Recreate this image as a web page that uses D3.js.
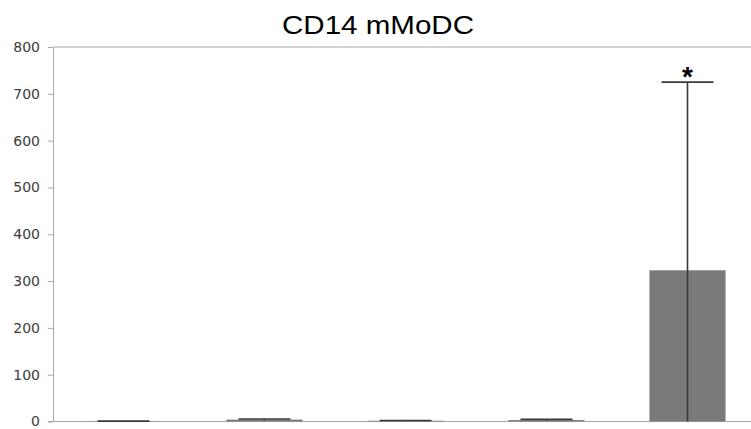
<!DOCTYPE html>
<html>
  <head>
    <meta charset="utf-8">
    <title>CD14 mMoDC</title>
    <script src="https://d3js.org/d3.v7.min.js"></script>
    <style>
      body { margin: 0; background: #fff; }
      #chart text { font-family: "DejaVu Sans", "Open Sans", sans-serif; }
      #chart .title { font-family: "Liberation Sans", Arial, sans-serif; font-size: 26px; fill: #000; }
      .tick text { font-size: 14px; fill: #3c3c3c; }
      .tick line, .domain, .frame { stroke: #a8a8a8; }
    </style>
  </head>
  <body>
    <svg id="chart" width="751" height="429"></svg>
    <script>
      // chart data
      var groups = ["G1", "G2", "G3", "G4", "G5"];
      var means = [0.6, 4, 1.5, 3, 323];
      var sds = [0.3, 1.5, 0.6, 1.5, 402];
      var sig = ["", "", "", "", "*"];
      var yTicks = [0, 100, 200, 300, 400, 500, 600, 700, 800];

      var svg = d3.select("#chart");
      var margin = { top: 47, left: 53 };
      var width = 751;

      var x = d3.scaleBand()
        .domain(groups)
        .range([margin.left, margin.left + 141 * groups.length])
        .paddingInner(0.46)
        .paddingOuter(0.23);
      var y = d3.scaleLinear()
        .domain([0, 800])
        .range([421.5, margin.top]);

      // title (reference text is stretched horizontally)
      svg.append("text")
        .attr("class", "title")
        .attr("x", 378)
        .attr("y", 34)
        .attr("text-anchor", "middle")
        .attr("textLength", 192)
        .attr("lengthAdjust", "spacingAndGlyphs")
        .text("CD14 mMoDC");

      // axis
      var axis = d3.axisLeft(y)
        .tickValues(yTicks)
        .tickSize(5)
        .tickSizeOuter(0)
        .tickPadding(8);
      svg.append("g")
        .attr("transform", "translate(" + margin.left + ",0)")
        .call(axis);

      // top and bottom frame lines
      svg.append("line")
        .attr("class", "frame")
        .attr("x1", margin.left).attr("x2", width)
        .attr("y1", y(800)).attr("y2", y(800));
      svg.append("line")
        .attr("class", "frame")
        .attr("x1", margin.left - 5).attr("x2", width)
        .attr("y1", y(0)).attr("y2", y(0));

      // bars
      svg.selectAll(".bar")
        .data(groups)
        .enter().append("rect")
          .attr("class", "bar")
          .attr("x", function(d) { return x(d); })
          .attr("width", x.bandwidth())
          .attr("y", function(d, i) { return y(means[i]); })
          .attr("height", function(d, i) { return y(0) - y(means[i]); })
          .attr("fill", "#7a7a7a");

      // error bars
      var capW = 52;
      var err = svg.selectAll(".err")
        .data(groups)
        .enter().append("g")
          .attr("class", "err")
          .attr("stroke", "#3a3a3a")
          .attr("stroke-width", 1.6);
      err.append("line")
        .attr("x1", function(d) { return x(d) + x.bandwidth() / 2; })
        .attr("x2", function(d) { return x(d) + x.bandwidth() / 2; })
        .attr("y1", function(d, i) { return y(Math.max(0, means[i] - sds[i])); })
        .attr("y2", function(d, i) { return y(means[i] + sds[i]); });
      err.append("line")
        .attr("x1", function(d) { return x(d) + x.bandwidth() / 2 - capW / 2; })
        .attr("x2", function(d) { return x(d) + x.bandwidth() / 2 + capW / 2; })
        .attr("y1", function(d, i) { return y(means[i] + sds[i]); })
        .attr("y2", function(d, i) { return y(means[i] + sds[i]); });

      // significance markers
      svg.selectAll(".sig")
        .data(groups)
        .enter().append("text")
          .attr("class", "sig")
          .attr("x", function(d) { return x(d) + x.bandwidth() / 2; })
          .attr("y", function(d, i) { return y(means[i] + sds[i]) + 4; })
          .attr("text-anchor", "middle")
          .style("font-family", "'Liberation Sans', Arial, sans-serif")
          .style("font-size", "28px")
          .style("font-weight", "bold")
          .text(function(d, i) { return sig[i]; });
    </script>
  </body>
</html>
